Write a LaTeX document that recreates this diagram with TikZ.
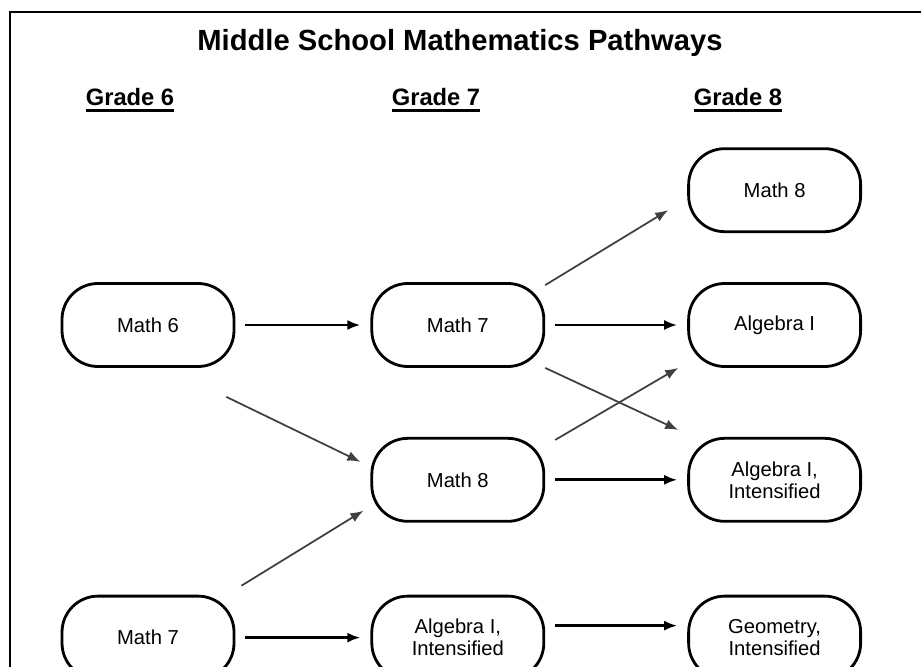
\documentclass[tikz,border=0pt]{standalone}
\usepackage{fontspec}
\setmainfont{Liberation Sans}
\usetikzlibrary{arrows.meta,positioning,calc}

\newsavebox\gradebox
\newcommand{\gradeul}[1]{\sbox\gradebox{#1}\rlap{\rule[-4pt]{\wd\gradebox}{1.7pt}}\usebox\gradebox}

\begin{document}
\begin{tikzpicture}[
    course/.style={draw, rounded corners=0.72cm, line width=1.6pt, minimum width=3.44cm, minimum height=1.66cm, align=center, font=\fontsize{11.5}{12.5}\selectfont},
    grade/.style={font=\fontsize{13.5}{16}\selectfont\bfseries},
    arrow/.style={-{Latex[length=0.26cm,width=0.2cm]}, line width=1.6pt, shorten <=0.2cm, shorten >=0.2cm},
    jump/.style={-{Latex[length=0.26cm,width=0.2cm]}, line width=1pt, draw=black!75}
]
\useasboundingbox (0,0) rectangle (18.42,-13.34);
\clip (0,0) rectangle (18.42,-13.34);
\draw[line width=0.8pt] (0.2,-13.34) -- (0.2,-0.24) -- (18.42,-0.24);

\node[font=\fontsize{16.6}{20}\selectfont\bfseries] (title) at (9.2,-0.86) {Middle School Mathematics Pathways};
\node[grade] (g6) at (2.6,-2.0) {\gradeul{Grade 6}};
\node[grade] (g7) at (8.72,-2.0) {\gradeul{Grade 7}};
\node[grade] (g8) at (14.76,-2.0) {\gradeul{Grade 8}};

\node[course] (m6) at (2.96,-6.50) {Math 6};
\node[course, right=2.7cm of m6] (m7) {Math 7};
\node[course, right=2.84cm of m7] (alg8) {Algebra I};
\node[course, above=0.98cm of alg8] (m8a) {Math 8};
\node[course, below=1.38cm of m7] (m8) {Math 8};
\node[course, below=1.38cm of alg8] (algint8) {Algebra I,\\Intensified};
\node[course, below=1.44cm of m8] (algint7) {Algebra I,\\Intensified};
\node[course, left=2.7cm of algint7] (m7a) {Math 7};
\node[course, right=2.84cm of algint7] (geo) {Geometry,\\Intensified};

\draw[arrow] (m6) -- (m7);
\draw[arrow] (m7) -- (alg8);
\draw[arrow] (m8) -- (algint8);
\draw[arrow] (m7a) -- (algint7);
\draw[arrow] ([yshift=0.24cm]algint7.east) -- ([yshift=0.24cm]geo.west);

\draw[jump] ($(m7.north east)+(0,-0.06)$) -- ($(m8a.west)+(-0.38,-0.40)$);
\draw[jump] (m7.south east) -- ($(algint8.north west)+(-0.18,0.14)$);
\draw[jump] ($(m8.north east)+(0.2,-0.06)$) -- ($(alg8.south west)+(-0.18,0)$);
\draw[jump] ($(m6.south east)+(-0.18,-0.58)$) -- ($(m8.west)+(-0.2,0.36)$);
\draw[jump] ($(m7a.north east)+(0.12,0.18)$) -- ($(m8.south west)+(-0.14,0.24)$);
\end{tikzpicture}
\end{document}
